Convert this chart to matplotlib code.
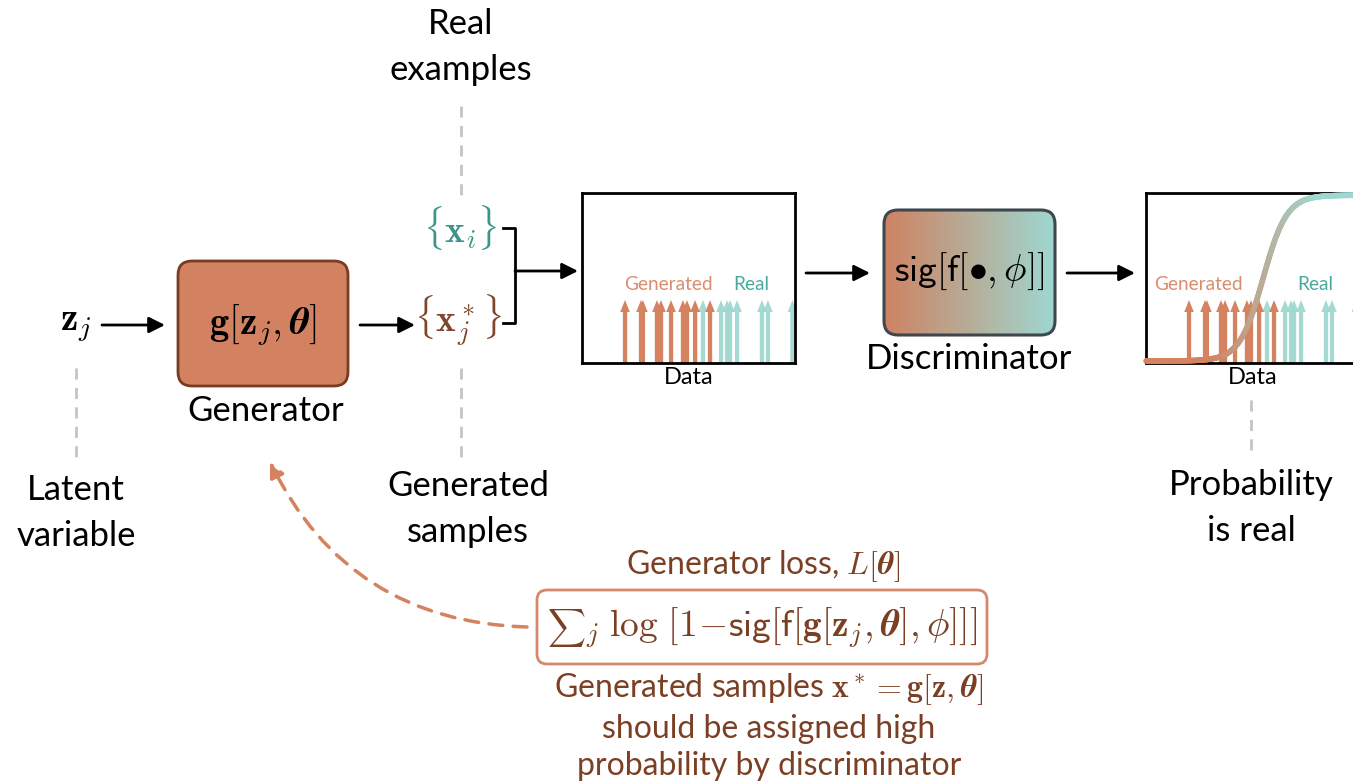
import numpy as np
import matplotlib.pyplot as plt
from matplotlib.patches import FancyBboxPatch, FancyArrowPatch
from matplotlib.collections import LineCollection
from matplotlib.colors import LinearSegmentedColormap, to_rgb
from matplotlib.offsetbox import TextArea, HPacker, AnnotationBbox

plt.rcParams['font.family'] = ['Lato', 'DejaVu Sans']
plt.rcParams['mathtext.fontset'] = 'cm'

# --- data shown in the two little panels (x in 0..10) ---
gen_pos = [2.02, 2.77, 2.86, 3.52, 3.71, 4.18, 4.74, 4.93, 5.31, 6.01]
real_pos = [5.68, 6.53, 6.81, 6.95, 7.28, 8.45, 8.73, 9.88]
arrow_height = 0.37
sig_center = 5.5
sig_slope = 1.8

ORANGE = '#D4825F'
TEAL = '#9FD8D0'
TEAL_TXT = '#4AA99D'
ORANGE_TXT = '#DB8C6C'
BROWN = '#7B3F23'
GRAY = '#C4C4C4'

LABEL_FS = 25
MATH_FS = 28

W, H = 1353, 783
fig = plt.figure(figsize=(W / 100, H / 100), dpi=100)
ax = fig.add_axes([0, 0, 1, 1])
ax.set_xlim(0, W)
ax.set_ylim(H, 0)
ax.axis('off')


def arrow(p0, p1, color='black', **kw):
    a = FancyArrowPatch(p0, p1, arrowstyle='-|>', mutation_scale=24,
                        lw=2, color=color, shrinkA=0, shrinkB=0, **kw)
    ax.add_patch(a)


def vdash(x, y0, y1):
    ax.plot([x, x], [y0, y1], color=GRAY, lw=2, ls=(0, (4, 3)))


def label(x, y, s, **kw):
    ax.text(x, y, s, fontsize=LABEL_FS, ha='center', va='center',
            linespacing=1.55, **kw)


def panel(left, gen_x, sigmoid=False):
    pa = fig.add_axes([left / W, (H - 363) / H, 213 / W, 170 / H])
    pa.set_xlim(0, 10)
    pa.set_ylim(0, 1)
    pa.set_xticks([])
    pa.set_yticks([])
    for s in pa.spines.values():
        s.set_linewidth(2)
    for x in real_pos:
        pa.arrow(x, 0, 0, arrow_height, width=0.2, head_width=0.45,
                 head_length=0.07, length_includes_head=True,
                 color=TEAL, lw=0, alpha=0.95)
    for x in gen_pos:
        pa.arrow(x, 0, 0, arrow_height, width=0.2, head_width=0.45,
                 head_length=0.07, length_includes_head=True,
                 color=ORANGE, lw=0)
    pa.text(gen_x, 0.46, 'Generated', color=ORANGE_TXT, fontsize=13.7,
            ha='center', va='center')
    pa.text(7.93, 0.46, 'Real', color=TEAL_TXT, fontsize=13.7,
            ha='center', va='center')
    pa.set_xlabel('Data', fontsize=17, labelpad=3)
    if sigmoid:
        xs = np.linspace(0, 10.4, 400)
        s = 1 / (1 + np.exp(-sig_slope * (xs - sig_center)))
        ys = 0.012 + 0.975 * s
        pts = np.column_stack([xs, ys]).reshape(-1, 1, 2)
        segs = np.concatenate([pts[:-1], pts[1:]], axis=1)
        c0, c1 = np.array(to_rgb(ORANGE)), np.array(to_rgb(TEAL))
        mix = np.clip((xs[:-1] - 3.0) / 5.0, 0, 1)
        cols = [c0 + (c1 - c0) * v for v in mix]
        lc = LineCollection(segs, colors=cols, lw=4, zorder=5,
                            capstyle='round', clip_on=False)
        pa.add_collection(lc)
    return pa


# --- left part: latent variable -> generator ---
ax.text(76, 326, r'$\mathbf{z}_j$', fontsize=MATH_FS, ha='center', va='center')
arrow((102, 325), (165, 325))
gbox = FancyBboxPatch((178, 261), 170, 125,
                      boxstyle='round,pad=0,rounding_size=14',
                      fc='#D38261', ec='#7A3B22', lw=2)
ax.add_patch(gbox)
ax.text(263, 325, r'$\mathbf{g}[\mathbf{z}_j,\boldsymbol{\theta}]$',
        fontsize=MATH_FS, ha='center', va='center')
label(266, 411, 'Generator')
vdash(76, 368, 460)
label(76, 513, 'Latent\nvariable')

# --- samples ---
arrow((360, 325), (415, 325))
ax.text(458, 320, r'$\{\mathbf{x}_j^*\}$', fontsize=27, color='#7D462D',
        ha='center', va='center')
ax.text(460, 228, r'$\{\mathbf{x}_i\}$', fontsize=27, color='#38968A',
        ha='center', va='center')
vdash(461, 106, 195)
vdash(461, 368, 460)
label(461, 47, 'Real\nexamples')
label(468, 509, 'Generated\nsamples')
ax.plot([503, 515, 515, 503], [228, 228, 323, 323], color='black', lw=2)
arrow((515, 271), (578, 271))

# --- panel 1 ---
panel(582, 4.08)

# --- discriminator ---
arrow((806, 273), (870, 273))
dbox = FancyBboxPatch((884, 210), 171, 125,
                      boxstyle='round,pad=0,rounding_size=14',
                      fc='none', ec='#3E474D', lw=2.2, zorder=3)
ax.add_patch(dbox)
cmap = LinearSegmentedColormap.from_list('og', ['#CF8262', '#9ED8D0'])
im = ax.imshow(np.linspace(0, 1, 256).reshape(1, -1), cmap=cmap,
               extent=(884, 1055, 335, 210), aspect='auto', zorder=2)
im.set_clip_path(dbox)
ax.set_xlim(0, W)
ax.set_ylim(H, 0)
ax.text(969, 271, r'$\mathsf{sig}[\mathsf{f}[\bullet,\phi]]$', fontsize=27,
        ha='center', va='center', zorder=4)
label(969, 359, 'Discriminator')
arrow((1067, 273), (1135, 273))

# --- panel 2 with sigmoid ---
panel(1146, 2.44, sigmoid=True)
vdash(1251, 400, 455)
label(1251, 508, 'Probability\nis real')

# --- generator loss ---
ax.text(763, 566, r'Generator loss, $L[\boldsymbol{\theta}]$', fontsize=23,
        color=BROWN, ha='center', va='center')
lbox = FancyBboxPatch((537, 590), 450, 74,
                      boxstyle='round,pad=0,rounding_size=10',
                      fc='white', ec='#D4896A', lw=2)
ax.add_patch(lbox)
sum_part = TextArea(r'$\sum$', textprops=dict(fontsize=19, color=BROWN))
rest_part = TextArea(
    r'${}_j\;\log\,[1\!-\!\mathsf{sig}[\mathsf{f}[\mathbf{g}'
    r'[\mathbf{z}_j,\boldsymbol{\theta}],\phi]]]$',
    textprops=dict(fontsize=27, color=BROWN))
formula = HPacker(children=[sum_part, rest_part], align='baseline', pad=0, sep=0)
ax.add_artist(AnnotationBbox(formula, (762, 628), frameon=False,
                             box_alignment=(0.5, 0.5), zorder=4))
ax.text(769, 726,
        'Generated samples $\\mathbf{x}^*=\\mathbf{g}[\\mathbf{z},'
        '\\boldsymbol{\\theta}]$\nshould be assigned high\n'
        'probability by discriminator',
        fontsize=23, color=BROWN, ha='center', va='center', linespacing=1.3)

# dashed feedback arrow
fb = FancyArrowPatch((527, 627), (270, 462), connectionstyle='arc3,rad=-0.3',
                     arrowstyle='-|>', mutation_scale=22, lw=2.5,
                     ls=(0, (4, 3)), color=ORANGE, shrinkA=0, shrinkB=0)
ax.add_patch(fb)

fig.savefig('out.png', dpi=100)
